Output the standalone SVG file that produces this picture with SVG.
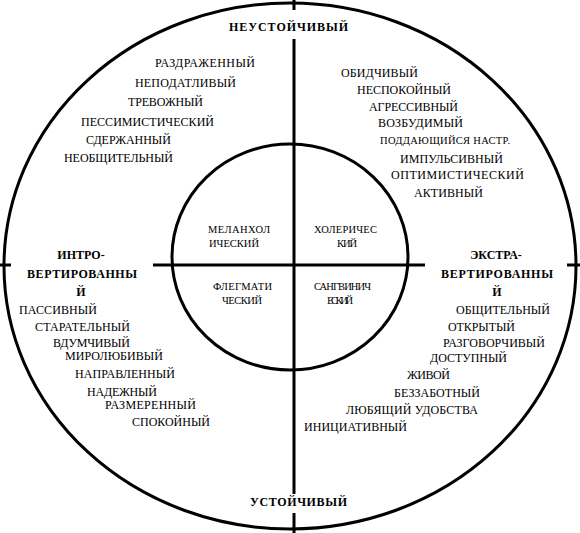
<svg xmlns="http://www.w3.org/2000/svg" width="580" height="533" viewBox="0 0 580 533">
<style>
.ln{fill:none;stroke:#000;stroke-width:3}
text{font-family:"Liberation Serif","Times New Roman","DejaVu Serif",serif;fill:#000}
.t{font-size:12px}
.s{font-size:10.5px}
.h{font-size:12px;font-weight:bold}
.m{text-anchor:middle}
</style>
<rect width="580" height="533" fill="#fff"/>
<g id="connectors">
<ellipse id="outer" class="ln" cx="290" cy="266" rx="286" ry="263"/>
<ellipse id="inner" class="ln" cx="290" cy="257" rx="118" ry="113"/>
<line class="ln" x1="294" y1="0" x2="294" y2="10"/>
<line class="ln" x1="294" y1="39" x2="294" y2="494"/>
<line class="ln" x1="294" y1="513" x2="294" y2="533"/>
<line class="ln" x1="0" y1="265" x2="11" y2="265"/>
<line class="ln" x1="153" y1="265" x2="425" y2="265"/>
<line class="ln" x1="567" y1="265" x2="580" y2="265"/>
</g>
<g id="top">
<text class="h" x="229" y="31" textLength="119" lengthAdjust="spacing">НЕУСТОЙЧИВЫЙ</text>
</g>
<g id="bottom">
<text class="h" x="250" y="506" textLength="97" lengthAdjust="spacing">УСТОЙЧИВЫЙ</text>
</g>
<g id="intro">
<text class="h m" x="81" y="259">ИНТРО-</text>
<text class="h" x="27" y="278" textLength="110" lengthAdjust="spacing">ВЕРТИРОВАННЫ</text>
<text class="h m" x="81" y="296">Й</text>
</g>
<g id="extra">
<text class="h m" x="496" y="259">ЭКСТРА-</text>
<text class="h" x="441" y="278" textLength="112" lengthAdjust="spacing">ВЕРТИРОВАННЫ</text>
<text class="h m" x="497" y="296">Й</text>
</g>
<g id="melancholic">
<text class="s" x="208" y="233" textLength="62">МЕЛАНХОЛ</text>
<text class="s" x="209" y="247" textLength="50">ИЧЕСКИЙ</text>
</g>
<g id="choleric">
<text class="s" x="314" y="233" textLength="63">ХОЛЕРИЧЕС</text>
<text class="s" x="337" y="247" textLength="20">КИЙ</text>
</g>
<g id="phlegmatic">
<text class="s" x="213" y="290" textLength="59">ФЛЕГМАТИ</text>
<text class="s" x="222" y="304" textLength="40">ЧЕСКИЙ</text>
</g>
<g id="sanguine">
<text class="s" x="314" y="290" textLength="57">САНГВИНИЧ</text>
<text class="s" x="327" y="304" textLength="26">ЕСКИЙ</text>
</g>
<g id="unstable-intro" class="t">
<text x="155" y="67" textLength="100">РАЗДРАЖЕННЫЙ</text>
<text x="135" y="87" textLength="101">НЕПОДАТЛИВЫЙ</text>
<text x="128" y="106" textLength="75">ТРЕВОЖНЫЙ</text>
<text x="81" y="126" textLength="133">ПЕССИМИСТИЧЕСКИЙ</text>
<text x="86" y="144" textLength="85">СДЕРЖАННЫЙ</text>
<text x="64" y="162" textLength="109">НЕОБЩИТЕЛЬНЫЙ</text>
</g>
<g id="unstable-extra" class="t">
<text x="341" y="77" textLength="77">ОБИДЧИВЫЙ</text>
<text x="357" y="94" textLength="94">НЕСПОКОЙНЫЙ</text>
<text x="369" y="111" textLength="89">АГРЕССИВНЫЙ</text>
<text x="378" y="127" textLength="85">ВОЗБУДИМЫЙ</text>
<text class="s" x="380" y="144" textLength="130">ПОДДАЮЩИЙСЯ НАСТР.</text>
<text x="400" y="163" textLength="103">ИМПУЛЬСИВНЫЙ</text>
<text x="391" y="179" textLength="133">ОПТИМИСТИЧЕСКИЙ</text>
<text x="414" y="197" textLength="69">АКТИВНЫЙ</text>
</g>
<g id="stable-intro" class="t">
<text x="19" y="314" textLength="78">ПАССИВНЫЙ</text>
<text x="35" y="331" textLength="95">СТАРАТЕЛЬНЫЙ</text>
<text x="53" y="347" textLength="77">ВДУМЧИВЫЙ</text>
<text x="65" y="360" textLength="98">МИРОЛЮБИВЫЙ</text>
<text x="75" y="378" textLength="100">НАПРАВЛЕННЫЙ</text>
<text x="87" y="396" textLength="70">НАДЕЖНЫЙ</text>
<text x="105" y="409" textLength="91">РАЗМЕРЕННЫЙ</text>
<text x="132" y="426" textLength="78">СПОКОЙНЫЙ</text>
</g>
<g id="stable-extra" class="t">
<text x="456" y="314" textLength="94">ОБЩИТЕЛЬНЫЙ</text>
<text x="448" y="331" textLength="67">ОТКРЫТЫЙ</text>
<text x="443" y="347" textLength="102">РАЗГОВОРЧИВЫЙ</text>
<text x="430" y="362" textLength="77">ДОСТУПНЫЙ</text>
<text x="407" y="379" textLength="43">ЖИВОЙ</text>
<text x="394" y="397" textLength="86">БЕЗЗАБОТНЫЙ</text>
<text x="346" y="414" textLength="132">ЛЮБЯЩИЙ УДОБСТВА</text>
<text x="304" y="431" textLength="103">ИНИЦИАТИВНЫЙ</text>
</g>
</svg>
